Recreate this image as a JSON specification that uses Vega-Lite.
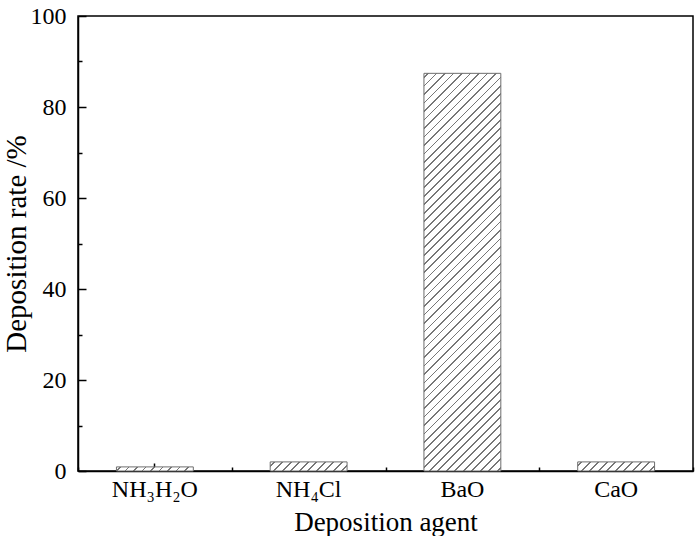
{
  "$schema": "https://vega.github.io/schema/vega-lite/v6.json",
  "width": 615,
  "height": 455,
  "autosize": "none",
  "padding": {"left": 78, "top": 16, "right": 7, "bottom": 65},
  "background": "white",
  "data": {
    "values": [
      {"agent": "NH₃H₂O", "rate": 0.9},
      {"agent": "NH₄Cl", "rate": 2.0},
      {"agent": "BaO", "rate": 87.4},
      {"agent": "CaO", "rate": 2.0}
    ]
  },
  "config": {
    "view": {"stroke": "#000", "strokeWidth": 1.5},
    "axis": {
      "labelFont": "Liberation Serif",
      "titleFont": "Liberation Serif",
      "labelColor": "#000",
      "titleColor": "#000",
      "titleFontWeight": "normal",
      "grid": false
    }
  },
  "layer": [
    {
      "transform": [{"filter": "datum.agent === 'BaO'"}],
      "mark": {
        "type": "bar",
        "width": {"band": 0.5},
        "stroke": "#6e6e6e",
        "strokeWidth": 1,
        "fill": {
          "gradient": "linear", "x1": 0, "y1": 0, "x2": 0.3976, "y2": 2.0567,
          "stops": [
            {"offset":0.004,"color":"#fff"},{"offset":0.004,"color":"#777"},{"offset":0.006,"color":"#777"},{"offset":0.006,"color":"#fff"},
            {"offset":0.014,"color":"#fff"},{"offset":0.014,"color":"#777"},{"offset":0.016,"color":"#777"},{"offset":0.016,"color":"#fff"},
            {"offset":0.024,"color":"#fff"},{"offset":0.024,"color":"#777"},{"offset":0.026,"color":"#777"},{"offset":0.026,"color":"#fff"},
            {"offset":0.034,"color":"#fff"},{"offset":0.034,"color":"#777"},{"offset":0.036,"color":"#777"},{"offset":0.036,"color":"#fff"},
            {"offset":0.044,"color":"#fff"},{"offset":0.044,"color":"#777"},{"offset":0.046,"color":"#777"},{"offset":0.046,"color":"#fff"},
            {"offset":0.054,"color":"#fff"},{"offset":0.054,"color":"#777"},{"offset":0.056,"color":"#777"},{"offset":0.056,"color":"#fff"},
            {"offset":0.064,"color":"#fff"},{"offset":0.064,"color":"#777"},{"offset":0.066,"color":"#777"},{"offset":0.066,"color":"#fff"},
            {"offset":0.074,"color":"#fff"},{"offset":0.074,"color":"#777"},{"offset":0.076,"color":"#777"},{"offset":0.076,"color":"#fff"},
            {"offset":0.084,"color":"#fff"},{"offset":0.084,"color":"#777"},{"offset":0.086,"color":"#777"},{"offset":0.086,"color":"#fff"},
            {"offset":0.094,"color":"#fff"},{"offset":0.094,"color":"#777"},{"offset":0.096,"color":"#777"},{"offset":0.096,"color":"#fff"},
            {"offset":0.104,"color":"#fff"},{"offset":0.104,"color":"#777"},{"offset":0.106,"color":"#777"},{"offset":0.106,"color":"#fff"},
            {"offset":0.114,"color":"#fff"},{"offset":0.114,"color":"#777"},{"offset":0.116,"color":"#777"},{"offset":0.116,"color":"#fff"},
            {"offset":0.124,"color":"#fff"},{"offset":0.124,"color":"#777"},{"offset":0.126,"color":"#777"},{"offset":0.126,"color":"#fff"},
            {"offset":0.134,"color":"#fff"},{"offset":0.134,"color":"#777"},{"offset":0.136,"color":"#777"},{"offset":0.136,"color":"#fff"},
            {"offset":0.144,"color":"#fff"},{"offset":0.144,"color":"#777"},{"offset":0.146,"color":"#777"},{"offset":0.146,"color":"#fff"},
            {"offset":0.154,"color":"#fff"},{"offset":0.154,"color":"#777"},{"offset":0.156,"color":"#777"},{"offset":0.156,"color":"#fff"},
            {"offset":0.164,"color":"#fff"},{"offset":0.164,"color":"#777"},{"offset":0.166,"color":"#777"},{"offset":0.166,"color":"#fff"},
            {"offset":0.174,"color":"#fff"},{"offset":0.174,"color":"#777"},{"offset":0.176,"color":"#777"},{"offset":0.176,"color":"#fff"},
            {"offset":0.184,"color":"#fff"},{"offset":0.184,"color":"#777"},{"offset":0.186,"color":"#777"},{"offset":0.186,"color":"#fff"},
            {"offset":0.194,"color":"#fff"},{"offset":0.194,"color":"#777"},{"offset":0.196,"color":"#777"},{"offset":0.196,"color":"#fff"},
            {"offset":0.204,"color":"#fff"},{"offset":0.204,"color":"#777"},{"offset":0.206,"color":"#777"},{"offset":0.206,"color":"#fff"},
            {"offset":0.214,"color":"#fff"},{"offset":0.214,"color":"#777"},{"offset":0.216,"color":"#777"},{"offset":0.216,"color":"#fff"},
            {"offset":0.224,"color":"#fff"},{"offset":0.224,"color":"#777"},{"offset":0.226,"color":"#777"},{"offset":0.226,"color":"#fff"},
            {"offset":0.234,"color":"#fff"},{"offset":0.234,"color":"#777"},{"offset":0.236,"color":"#777"},{"offset":0.236,"color":"#fff"},
            {"offset":0.244,"color":"#fff"},{"offset":0.244,"color":"#777"},{"offset":0.246,"color":"#777"},{"offset":0.246,"color":"#fff"},
            {"offset":0.254,"color":"#fff"},{"offset":0.254,"color":"#777"},{"offset":0.256,"color":"#777"},{"offset":0.256,"color":"#fff"},
            {"offset":0.264,"color":"#fff"},{"offset":0.264,"color":"#777"},{"offset":0.266,"color":"#777"},{"offset":0.266,"color":"#fff"},
            {"offset":0.274,"color":"#fff"},{"offset":0.274,"color":"#777"},{"offset":0.276,"color":"#777"},{"offset":0.276,"color":"#fff"},
            {"offset":0.284,"color":"#fff"},{"offset":0.284,"color":"#777"},{"offset":0.286,"color":"#777"},{"offset":0.286,"color":"#fff"},
            {"offset":0.294,"color":"#fff"},{"offset":0.294,"color":"#777"},{"offset":0.296,"color":"#777"},{"offset":0.296,"color":"#fff"},
            {"offset":0.304,"color":"#fff"},{"offset":0.304,"color":"#777"},{"offset":0.306,"color":"#777"},{"offset":0.306,"color":"#fff"},
            {"offset":0.314,"color":"#fff"},{"offset":0.314,"color":"#777"},{"offset":0.316,"color":"#777"},{"offset":0.316,"color":"#fff"},
            {"offset":0.324,"color":"#fff"},{"offset":0.324,"color":"#777"},{"offset":0.326,"color":"#777"},{"offset":0.326,"color":"#fff"},
            {"offset":0.334,"color":"#fff"},{"offset":0.334,"color":"#777"},{"offset":0.336,"color":"#777"},{"offset":0.336,"color":"#fff"},
            {"offset":0.344,"color":"#fff"},{"offset":0.344,"color":"#777"},{"offset":0.346,"color":"#777"},{"offset":0.346,"color":"#fff"},
            {"offset":0.354,"color":"#fff"},{"offset":0.354,"color":"#777"},{"offset":0.356,"color":"#777"},{"offset":0.356,"color":"#fff"},
            {"offset":0.364,"color":"#fff"},{"offset":0.364,"color":"#777"},{"offset":0.366,"color":"#777"},{"offset":0.366,"color":"#fff"},
            {"offset":0.374,"color":"#fff"},{"offset":0.374,"color":"#777"},{"offset":0.376,"color":"#777"},{"offset":0.376,"color":"#fff"},
            {"offset":0.384,"color":"#fff"},{"offset":0.384,"color":"#777"},{"offset":0.386,"color":"#777"},{"offset":0.386,"color":"#fff"},
            {"offset":0.394,"color":"#fff"},{"offset":0.394,"color":"#777"},{"offset":0.396,"color":"#777"},{"offset":0.396,"color":"#fff"},
            {"offset":0.404,"color":"#fff"},{"offset":0.404,"color":"#777"},{"offset":0.406,"color":"#777"},{"offset":0.406,"color":"#fff"},
            {"offset":0.414,"color":"#fff"},{"offset":0.414,"color":"#777"},{"offset":0.416,"color":"#777"},{"offset":0.416,"color":"#fff"},
            {"offset":0.424,"color":"#fff"},{"offset":0.424,"color":"#777"},{"offset":0.426,"color":"#777"},{"offset":0.426,"color":"#fff"},
            {"offset":0.434,"color":"#fff"},{"offset":0.434,"color":"#777"},{"offset":0.436,"color":"#777"},{"offset":0.436,"color":"#fff"},
            {"offset":0.444,"color":"#fff"},{"offset":0.444,"color":"#777"},{"offset":0.446,"color":"#777"},{"offset":0.446,"color":"#fff"},
            {"offset":0.454,"color":"#fff"},{"offset":0.454,"color":"#777"},{"offset":0.456,"color":"#777"},{"offset":0.456,"color":"#fff"},
            {"offset":0.464,"color":"#fff"},{"offset":0.464,"color":"#777"},{"offset":0.466,"color":"#777"},{"offset":0.466,"color":"#fff"},
            {"offset":0.474,"color":"#fff"},{"offset":0.474,"color":"#777"},{"offset":0.476,"color":"#777"},{"offset":0.476,"color":"#fff"},
            {"offset":0.484,"color":"#fff"},{"offset":0.484,"color":"#777"},{"offset":0.486,"color":"#777"},{"offset":0.486,"color":"#fff"},
            {"offset":0.494,"color":"#fff"},{"offset":0.494,"color":"#777"},{"offset":0.496,"color":"#777"},{"offset":0.496,"color":"#fff"},
            {"offset":0.504,"color":"#fff"},{"offset":0.504,"color":"#777"},{"offset":0.506,"color":"#777"},{"offset":0.506,"color":"#fff"},
            {"offset":0.514,"color":"#fff"},{"offset":0.514,"color":"#777"},{"offset":0.516,"color":"#777"},{"offset":0.516,"color":"#fff"},
            {"offset":0.524,"color":"#fff"},{"offset":0.524,"color":"#777"},{"offset":0.526,"color":"#777"},{"offset":0.526,"color":"#fff"},
            {"offset":0.534,"color":"#fff"},{"offset":0.534,"color":"#777"},{"offset":0.536,"color":"#777"},{"offset":0.536,"color":"#fff"},
            {"offset":0.544,"color":"#fff"},{"offset":0.544,"color":"#777"},{"offset":0.546,"color":"#777"},{"offset":0.546,"color":"#fff"},
            {"offset":0.554,"color":"#fff"},{"offset":0.554,"color":"#777"},{"offset":0.556,"color":"#777"},{"offset":0.556,"color":"#fff"}
          ]
        }
      },
      "encoding": {
        "x": {
          "field": "agent", "type": "nominal",
          "scale": {"domain": ["NH₃H₂O", "NH₄Cl", "BaO", "CaO"], "paddingInner": 0, "paddingOuter": 0},
          "axis": {
            "title": "Deposition agent", "orient": "bottom",
            "tickSize": -8, "tickWidth": 1.5, "tickColor": "#000",
            "domainColor": "#000", "domainWidth": 1.5,
            "labelAngle": 0, "labelPadding": 14, "labelFontSize": 24,
            "titleFontSize": 27, "titlePadding": 8
          }
        },
        "y": {
          "field": "rate", "type": "quantitative",
          "scale": {"domain": [0, 100], "nice": false},
          "axis": {
            "title": "Deposition rate /%", "orient": "left",
            "values": [0, 20, 40, 60, 80, 100],
            "tickSize": -8,
            "tickWidth": 1.5, "tickColor": "#000",
            "domainColor": "#000", "domainWidth": 1.5,
            "labelPadding": 20, "labelFontSize": 24,
            "titleFontSize": 29, "titlePadding": -1
          }
        }
      }
    },
    {
      "transform": [{"filter": {"field": "agent", "oneOf": ["NH₄Cl", "CaO"]}}],
      "mark": {
        "type": "bar",
        "width": {"band": 0.5},
        "stroke": "#6e6e6e",
        "strokeWidth": 1,
        "fill": {
          "gradient": "linear", "x1": 0, "y1": 0, "x2": 10.885, "y2": 1.2885,
          "stops": [
            {"offset":0.004,"color":"#fff"},{"offset":0.004,"color":"#777"},{"offset":0.006,"color":"#777"},{"offset":0.006,"color":"#fff"},
            {"offset":0.014,"color":"#fff"},{"offset":0.014,"color":"#777"},{"offset":0.016,"color":"#777"},{"offset":0.016,"color":"#fff"},
            {"offset":0.024,"color":"#fff"},{"offset":0.024,"color":"#777"},{"offset":0.026,"color":"#777"},{"offset":0.026,"color":"#fff"},
            {"offset":0.034,"color":"#fff"},{"offset":0.034,"color":"#777"},{"offset":0.036,"color":"#777"},{"offset":0.036,"color":"#fff"},
            {"offset":0.044,"color":"#fff"},{"offset":0.044,"color":"#777"},{"offset":0.046,"color":"#777"},{"offset":0.046,"color":"#fff"},
            {"offset":0.054,"color":"#fff"},{"offset":0.054,"color":"#777"},{"offset":0.056,"color":"#777"},{"offset":0.056,"color":"#fff"},
            {"offset":0.064,"color":"#fff"},{"offset":0.064,"color":"#777"},{"offset":0.066,"color":"#777"},{"offset":0.066,"color":"#fff"},
            {"offset":0.074,"color":"#fff"},{"offset":0.074,"color":"#777"},{"offset":0.076,"color":"#777"},{"offset":0.076,"color":"#fff"},
            {"offset":0.084,"color":"#fff"},{"offset":0.084,"color":"#777"},{"offset":0.086,"color":"#777"},{"offset":0.086,"color":"#fff"},
            {"offset":0.094,"color":"#fff"},{"offset":0.094,"color":"#777"},{"offset":0.096,"color":"#777"},{"offset":0.096,"color":"#fff"},
            {"offset":0.104,"color":"#fff"},{"offset":0.104,"color":"#777"},{"offset":0.106,"color":"#777"},{"offset":0.106,"color":"#fff"}
          ]
        }
      },
      "encoding": {
        "x": {"field": "agent", "type": "nominal", "scale": {"domain": ["NH₃H₂O", "NH₄Cl", "BaO", "CaO"], "paddingInner": 0, "paddingOuter": 0}, "axis": null},
        "y": {"field": "rate", "type": "quantitative", "axis": null}
      }
    },
    {
      "transform": [{"filter": {"field": "agent", "equal": "NH₃H₂O"}}],
      "mark": {
        "type": "bar",
        "width": {"band": 0.5},
        "stroke": "#6e6e6e",
        "strokeWidth": 1,
        "fill": {
          "gradient": "linear", "x1": 0, "y1": 0, "x2": 11.006, "y2": 0.5863,
          "stops": [
            {"offset":0.004,"color":"#fff"},{"offset":0.004,"color":"#777"},{"offset":0.006,"color":"#777"},{"offset":0.006,"color":"#fff"},
            {"offset":0.014,"color":"#fff"},{"offset":0.014,"color":"#777"},{"offset":0.016,"color":"#777"},{"offset":0.016,"color":"#fff"},
            {"offset":0.024,"color":"#fff"},{"offset":0.024,"color":"#777"},{"offset":0.026,"color":"#777"},{"offset":0.026,"color":"#fff"},
            {"offset":0.034,"color":"#fff"},{"offset":0.034,"color":"#777"},{"offset":0.036,"color":"#777"},{"offset":0.036,"color":"#fff"},
            {"offset":0.044,"color":"#fff"},{"offset":0.044,"color":"#777"},{"offset":0.046,"color":"#777"},{"offset":0.046,"color":"#fff"},
            {"offset":0.054,"color":"#fff"},{"offset":0.054,"color":"#777"},{"offset":0.056,"color":"#777"},{"offset":0.056,"color":"#fff"},
            {"offset":0.064,"color":"#fff"},{"offset":0.064,"color":"#777"},{"offset":0.066,"color":"#777"},{"offset":0.066,"color":"#fff"},
            {"offset":0.074,"color":"#fff"},{"offset":0.074,"color":"#777"},{"offset":0.076,"color":"#777"},{"offset":0.076,"color":"#fff"},
            {"offset":0.084,"color":"#fff"},{"offset":0.084,"color":"#777"},{"offset":0.086,"color":"#777"},{"offset":0.086,"color":"#fff"},
            {"offset":0.094,"color":"#fff"},{"offset":0.094,"color":"#777"},{"offset":0.096,"color":"#777"},{"offset":0.096,"color":"#fff"}
          ]
        }
      },
      "encoding": {
        "x": {"field": "agent", "type": "nominal", "scale": {"domain": ["NH₃H₂O", "NH₄Cl", "BaO", "CaO"], "paddingInner": 0, "paddingOuter": 0}, "axis": null},
        "y": {"field": "rate", "type": "quantitative", "axis": null}
      }
    },
    {
      "mark": {"type": "tick", "opacity": 0},
      "encoding": {
        "x": {
          "field": "agent", "type": "nominal",
          "scale": {"domain": ["NH₃H₂O", "NH₄Cl", "BaO", "CaO"], "paddingInner": 0, "paddingOuter": 0},
          "axis": {
            "orient": "bottom", "tickBand": "extent", "tickSize": -4, "tickWidth": 1.5,
            "tickColor": "#000", "labels": false, "domain": false, "title": null
          }
        },
        "y": {
          "field": "rate", "type": "quantitative",
          "axis": {
            "orient": "left", "values": [10, 30, 50, 70, 90], "tickSize": -4, "tickWidth": 1.5,
            "tickColor": "#000", "labels": false, "domain": false, "title": null
          }
        }
      }
    }
  ],
  "resolve": {"axis": {"x": "independent", "y": "independent"}}
}
